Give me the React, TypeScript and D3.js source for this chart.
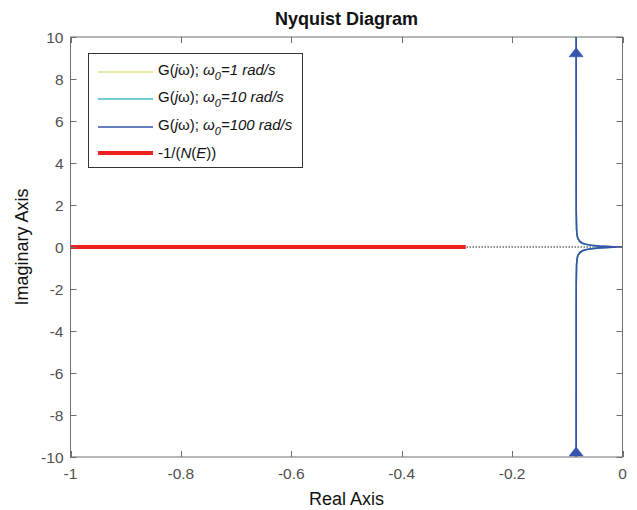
import React, { useEffect, useRef } from 'react'
import * as d3 from 'd3'

// axis ticks
const xTicks = [-1, -0.8, -0.6, -0.4, -0.2, 0]
const xTickLabels = ['-1', '-0.8', '-0.6', '-0.4', '-0.2', '0']
const yTicks = [-10, -8, -6, -4, -2, 0, 2, 4, 6, 8, 10]
const yTickLabels = ['-10', '-8', '-6', '-4', '-2', '0', '2', '4', '6', '8', '10']

// G(jw) lower branch (w > 0)
const lowerRe = [-0.084, -0.0839, -0.0838, -0.0832, -0.0822, -0.0808, -0.0771, -0.0724, -0.0672, -0.0564, -0.042, -0.0258, -0.0168, -0.0084, -0.0032, 0]
const lowerIm = [-12, -3, -1.68, -0.83, -0.55, -0.4, -0.26, -0.18, -0.13, -0.08, -0.042, -0.017, -0.008, -0.003, -0.0006, 0]
// upper branch (w < 0)
const upperRe = [-0.084, -0.0839, -0.0838, -0.0832, -0.0822, -0.0808, -0.0771, -0.0724, -0.0672, -0.0564, -0.042, -0.0258, -0.0168, -0.0084, -0.0032, 0]
const upperIm = [12, 3, 1.68, 0.83, 0.55, 0.4, 0.26, 0.18, 0.13, 0.08, 0.042, 0.017, 0.008, 0.003, 0.0006, 0]

// direction arrows (base centre), both pointing up
const arrowRe = [-0.084, -0.084]
const arrowIm = [9.06, -9.95]

// series
const omegas = ['1', '10', '100']
const seriesColors = ['#e0e08a', '#44bec6', '#3453ad']

// -1/N(E)
const nRe = [-1, -0.284]
const nIm = [0, 0]
const zeroRe = [-1, 0]

export default function App(): JSX.Element {
  const svgRef = useRef(null)
  const width = 637
  const height = 510
  const marginLeft = 70.5
  const marginRight = 14.5
  const marginTop = 37
  const marginBottom = 53

  useEffect(() => {
    const svg = d3.select(svgRef.current)
    svg.selectAll('*').remove()

    const x = d3.scaleLinear().domain([-1, 0]).range([marginLeft, width - marginRight])
    const y = d3.scaleLinear().domain([-10, 10]).range([height - marginBottom, marginTop])
    const font = 'Arial, "Liberation Sans", Helvetica, sans-serif'
    const axisColor = '#6f6f6f'
    const textColor = '#505050'

    svg.append('rect').attr('width', width).attr('height', height).attr('fill', 'white')

    svg
      .append('defs')
      .append('clipPath')
      .attr('id', 'plot-clip')
      .append('rect')
      .attr('x', x(-1))
      .attr('y', y(10))
      .attr('width', x(0) - x(-1))
      .attr('height', y(-10) - y(10))

    const plot = svg.append('g').attr('clip-path', 'url(#plot-clip)')
    const line = d3
      .line<[number, number]>()
      .x(d => x(d[0]))
      .y(d => y(d[1]))

    // dotted real axis
    plot
      .append('path')
      .attr('d', line(zeroRe.map(v => [v, 0])))
      .attr('fill', 'none')
      .attr('stroke', '#222')
      .attr('stroke-width', 1)
      .attr('stroke-dasharray', '1.5,1.5')

    // -1/N(E)
    plot
      .append('path')
      .attr('d', line(nRe.map((v, i) => [v, nIm[i]])))
      .attr('fill', 'none')
      .attr('stroke', '#ee2020')
      .attr('stroke-width', 4)

    // G(jw) curves, drawn on top of each other
    const lower = lowerRe.map((v, i) => [v, lowerIm[i]] as [number, number])
    const upper = upperRe.map((v, i) => [v, upperIm[i]] as [number, number])
    seriesColors.forEach(c => {
      ;[lower, upper].forEach(pts => {
        plot
          .append('path')
          .attr('d', line(pts))
          .attr('fill', 'none')
          .attr('stroke', c)
          .attr('stroke-width', 1.6)
      })
    })

    // arrows
    const c = seriesColors[seriesColors.length - 1]
    arrowRe.forEach((v, i) => {
      const ax = x(v)
      const ay = y(arrowIm[i])
      plot
        .append('path')
        .attr('d', `M${ax - 7},${ay} L${ax + 7},${ay} L${ax},${ay - 9} Z`)
        .attr('fill', c)
        .attr('stroke', c)
        .attr('stroke-width', 0.6)
    })

    // axes box + ticks
    const axes = svg.append('g').attr('stroke', axisColor).attr('stroke-width', 1)
    const tl = 6
    xTicks.forEach(t => {
      const px = Math.round(x(t)) + 0.5
      axes.append('line').attr('x1', px).attr('x2', px).attr('y1', y(-10)).attr('y2', y(-10) - tl)
      axes.append('line').attr('x1', px).attr('x2', px).attr('y1', y(10)).attr('y2', y(10) + tl)
    })
    yTicks.forEach(t => {
      const py = Math.round(y(t)) + 0.5
      axes.append('line').attr('x1', x(-1)).attr('x2', x(-1) + tl).attr('y1', py).attr('y2', py)
      axes.append('line').attr('x1', x(0)).attr('x2', x(0) - tl).attr('y1', py).attr('y2', py)
    })
    axes
      .append('rect')
      .attr('x', x(-1))
      .attr('y', y(10))
      .attr('width', x(0) - x(-1))
      .attr('height', y(-10) - y(10))
      .attr('fill', 'none')

    // tick labels
    svg
      .append('g')
      .attr('font-family', font)
      .attr('font-size', 15.5)
      .attr('fill', textColor)
      .attr('text-anchor', 'middle')
      .selectAll('text')
      .data(xTicks)
      .join('text')
      .attr('x', d => x(d))
      .attr('y', y(-10) + 22)
      .text((d, i) => xTickLabels[i])

    svg
      .append('g')
      .attr('font-family', font)
      .attr('font-size', 15.5)
      .attr('fill', textColor)
      .attr('text-anchor', 'end')
      .selectAll('text')
      .data(yTicks)
      .join('text')
      .attr('x', x(-1) - 7)
      .attr('y', d => y(d))
      .attr('dy', '0.36em')
      .text((d, i) => yTickLabels[i])

    // titles
    svg
      .append('text')
      .attr('x', (x(-1) + x(0)) / 2)
      .attr('y', 25)
      .attr('text-anchor', 'middle')
      .attr('font-family', font)
      .attr('font-size', 18)
      .attr('font-weight', 'bold')
      .attr('fill', '#111')
      .text('Nyquist Diagram')

    svg
      .append('text')
      .attr('x', (x(-1) + x(0)) / 2)
      .attr('y', 505)
      .attr('text-anchor', 'middle')
      .attr('font-family', font)
      .attr('font-size', 18)
      .attr('fill', '#111')
      .text('Real Axis')

    svg
      .append('text')
      .attr('transform', `translate(28,${(y(10) + y(-10)) / 2}) rotate(-90)`)
      .attr('text-anchor', 'middle')
      .attr('font-family', font)
      .attr('font-size', 18)
      .attr('fill', '#111')
      .text('Imaginary Axis')

    // legend
    const lg = svg.append('g').attr('font-family', font).attr('font-size', 15).attr('fill', '#111')
    lg.append('rect')
      .attr('x', 88.5)
      .attr('y', 53.5)
      .attr('width', 214)
      .attr('height', 114)
      .attr('fill', 'white')
      .attr('stroke', '#333')
      .attr('stroke-width', 1)

    const rowY = [72, 99, 127, 153]
    omegas.forEach((w, i) => {
      const ry = rowY[i]
      lg.append('line')
        .attr('x1', 98)
        .attr('x2', 153)
        .attr('y1', ry)
        .attr('y2', ry)
        .attr('stroke', seriesColors[i])
        .attr('stroke-width', 1.4)
      const t = lg.append('text').attr('x', 158).attr('y', ry + 3)
      t.append('tspan').text('G(')
      t.append('tspan').attr('font-style', 'italic').text('j')
      t.append('tspan').text('ω); ')
      t.append('tspan').attr('font-style', 'italic').text('ω')
      t.append('tspan').attr('font-style', 'italic').attr('font-size', 11).attr('dy', 5).text('0')
      t.append('tspan').attr('font-style', 'italic').attr('dy', -5).text(`=${w} rad/s`)
    })
    const ry = rowY[3]
    lg.append('line')
      .attr('x1', 98)
      .attr('x2', 153)
      .attr('y1', ry)
      .attr('y2', ry)
      .attr('stroke', '#ee2020')
      .attr('stroke-width', 4)
    const t = lg.append('text').attr('x', 158).attr('y', ry + 5)
    t.append('tspan').text('-1/(')
    t.append('tspan').attr('font-style', 'italic').text('N')
    t.append('tspan').text('(')
    t.append('tspan').attr('font-style', 'italic').text('E')
    t.append('tspan').text('))')
  }, [])

  return (
    <svg
      ref={svgRef}
      width={width}
      height={height}
      style={{ position: 'absolute', left: 0, top: 0, display: 'block' }}
    ></svg>
  )
}
